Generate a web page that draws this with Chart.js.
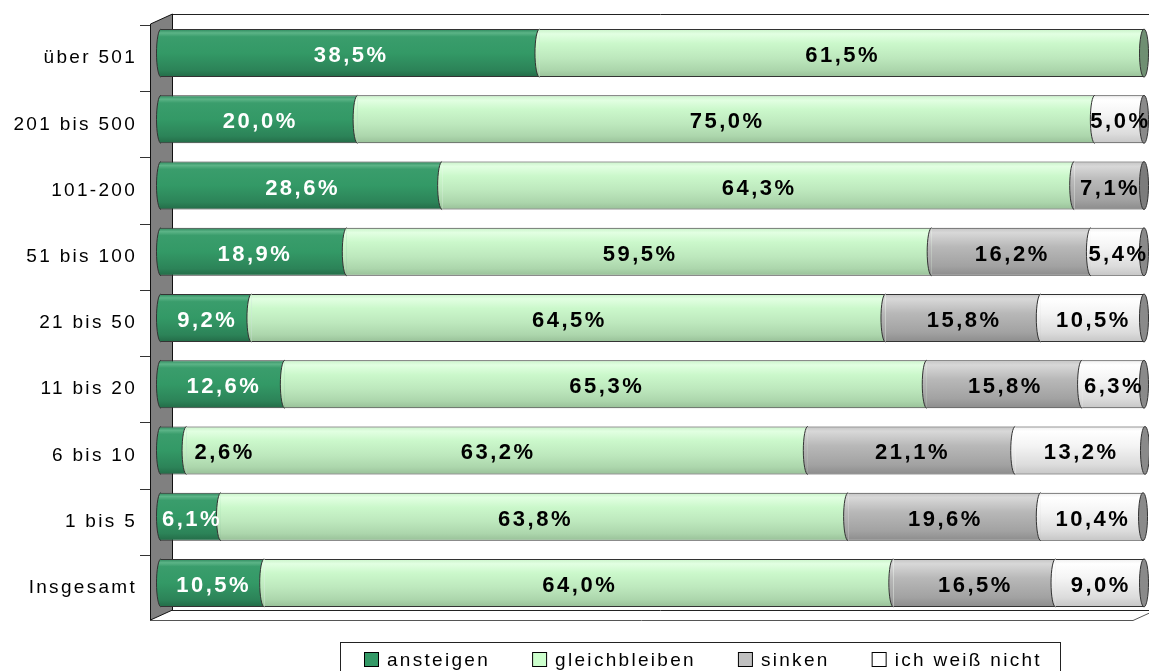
<!DOCTYPE html>
<html>
<head>
<meta charset="utf-8">
<script src="https://cdn.jsdelivr.net/npm/chart.js@4.4.1/dist/chart.umd.min.js"></script>
<style>
  html, body { margin: 0; padding: 0; background: #fff; }
  #chart { display: block; }
</style>
</head>
<body>
<canvas id="chart" width="1149" height="671"></canvas>
<script>
// ── Daten ──
const categories = ['über 501', '201 bis 500', '101-200', '51 bis 100', '21 bis 50', '11 bis 20', '6 bis 10', '1 bis 5', 'Insgesamt'];
const seriesNames = ['ansteigen', 'gleichbleiben', 'sinken', 'ich weiß nicht'];
const ansteigen     = [38.5, 20.0, 28.6, 18.9,  9.2, 12.6,  2.6,  6.1, 10.5];
const gleichbleiben = [61.5, 75.0, 64.3, 59.5, 64.5, 65.3, 63.2, 63.8, 64.0];
const sinken        = [ 0,    0,    7.1, 16.2, 15.8, 15.8, 21.1, 19.6, 16.5];
const weissNicht    = [ 0,    5.0,  0,    5.4, 10.5,  6.3, 13.2, 10.4,  9.0];

// ── Farben ──
const flatColors = ['#339966', '#CCFFCC', '#C0C0C0', '#FFFFFF'];
const capColors = ['#1f5f3f', '#6f8f72', '#7c7c7c', '#8a8a8a'];
const labelColors = ['#fff', '#000', '#000', '#000'];
const gradStops = [
    [[0, '#2a865a'], [0.08, '#5cb487'], [0.16, '#3a9d6c'], [0.5, '#339966'], [0.85, '#2c8358'], [1, '#236b47']],
    [[0, '#c8f2c8'], [0.1, '#e2ffe2'], [0.3, '#cbf8cb'], [0.6, '#bde8bd'], [0.85, '#acd6ac'], [1, '#98c098']],
    [[0, '#c4c4c4'], [0.1, '#d8d8d8'], [0.4, '#b8b8b8'], [0.8, '#a2a2a2'], [1, '#8c8c8c']],
    [[0, '#eeeeee'], [0.1, '#ffffff'], [0.4, '#f4f4f4'], [0.8, '#dcdcdc'], [1, '#c6c6c6']]
];

const BAR_PCT = 0.725;
const CAP = 4.5;
const LABEL_FONT = 'bold 22px "Liberation Sans", Arial, sans-serif';
const TEXT_FONT = '19px "Liberation Sans", Arial, sans-serif';

function cylinder(stops, fallback) {
    return ctx => {
        const chart = ctx.chart;
        const area = chart.chartArea;
        if (!area || ctx.type !== 'data') return fallback;
        const y = chart.scales.y.getPixelForValue(ctx.dataIndex);
        const h = area.height / categories.length * BAR_PCT;
        const g = chart.ctx.createLinearGradient(0, y - h / 2, 0, y + h / 2);
        stops.forEach(s => g.addColorStop(s[0], s[1]));
        return g;
    };
}

const fmt = v => v.toFixed(1).replace('.', ',') + '%';

// ── 3D-Rahmen (Wand, Boden, Rückwand) ──
const frame3d = {
    id: 'frame3d',
    beforeDraw(chart) {
        const { ctx, chartArea: a, width } = chart;
        const xf = a.left - 11, xb = a.left + 11;
        const yTopF = a.top + 4, yTopB = a.top - 6;
        const yBotF = a.bottom + 4, yBotB = a.bottom - 6;
        ctx.save();
        ctx.strokeStyle = '#222';
        ctx.lineWidth = 1;
        // Rückwand oben + Boden hinten
        ctx.beginPath();
        ctx.moveTo(xb, yTopB + 0.5); ctx.lineTo(width, yTopB + 0.5);
        ctx.moveTo(xb, yBotB + 0.5); ctx.lineTo(width, yBotB + 0.5);
        ctx.stroke();
        // Boden vorne
        ctx.strokeStyle = '#555';
        ctx.beginPath();
        ctx.moveTo(xf, yBotF + 0.5);
        ctx.lineTo(a.right - 11, yBotF + 0.5);
        ctx.lineTo(a.right + 11, yBotB + 0.5);
        ctx.stroke();
        // Seitenwand
        ctx.beginPath();
        ctx.moveTo(xf + 0.5, yTopF);
        ctx.lineTo(xb + 0.5, yTopB);
        ctx.lineTo(xb + 0.5, yBotB);
        ctx.lineTo(xf + 0.5, yBotF);
        ctx.closePath();
        ctx.fillStyle = '#808080';
        ctx.fill();
        ctx.strokeStyle = '#111';
        ctx.stroke();
        // Teilstriche
        const step = a.height / categories.length;
        ctx.strokeStyle = '#333';
        ctx.beginPath();
        for (let k = 0; k < categories.length; k++) {
            const y = Math.round(a.top + 5 + k * step) + 0.5;
            ctx.moveTo(xf - 10, y); ctx.lineTo(xf, y);
        }
        ctx.stroke();
        ctx.restore();
        // Achsenbeschriftung mit Sperrung
        ctx.letterSpacing = '2.3px';
    },
    beforeDatasetsDraw(chart) {
        chart.ctx.letterSpacing = '0px';
    }
};

// ── Zylinder-Enden und Datenbeschriftungen ──
const cylinderDeco = {
    id: 'cylinderDeco',
    afterDatasetsDraw(chart) {
        const ctx = chart.ctx;
        ctx.save();
        ctx.lineWidth = 1;
        ctx.strokeStyle = '#333';
        const labels = [];
        for (let i = 0; i < categories.length; i++) {
            let lastEl = null, last = -1;
            for (let d = 0; d < seriesNames.length; d++) {
                const el = chart.getDatasetMeta(d).data[i];
                if (!el || el.x - el.base < 0.5) continue;
                const h = el.height, cy = el.y;
                ctx.beginPath();
                ctx.moveTo(el.base, cy - h / 2);
                ctx.ellipse(el.base, cy, CAP, h / 2, 0, -Math.PI / 2, Math.PI / 2, true);
                ctx.closePath();
                ctx.fillStyle = el.options.backgroundColor;
                ctx.fill();
                ctx.beginPath();
                ctx.ellipse(el.base, cy, CAP, h / 2, 0, -Math.PI / 2, Math.PI / 2, true);
                ctx.stroke();
                lastEl = el; last = d;
                labels.push({ el, d, v: chart.data.datasets[d].data[i] });
            }
            if (lastEl) {
                ctx.beginPath();
                ctx.ellipse(lastEl.x, lastEl.y, CAP, lastEl.height / 2, 0, 0, Math.PI * 2);
                ctx.fillStyle = capColors[last];
                ctx.fill();
                ctx.stroke();
            }
        }
        ctx.font = LABEL_FONT;
        ctx.letterSpacing = '2.5px';
        ctx.textBaseline = 'alphabetic';
        labels.forEach(({ el, d, v }) => {
            const w = el.x - el.base;
            const text = fmt(v);
            if (w < 40) {
                ctx.textAlign = 'left';
                ctx.fillStyle = '#000';
                ctx.fillText(text, el.x + 8, el.y + 9);
            } else {
                ctx.textAlign = 'center';
                ctx.fillStyle = labelColors[d];
                ctx.fillText(text, (el.x + el.base) / 2 + 1, el.y + 9);
            }
        });
        ctx.restore();
    }
};

// ── Legende mit Rahmen ──
const boxLegend = {
    id: 'boxLegend',
    afterDraw(chart) {
        const ctx = chart.ctx;
        ctx.save();
        ctx.lineWidth = 1;
        ctx.strokeStyle = '#222';
        ctx.strokeRect(340.5, 642.5, 720, 60);
        ctx.font = TEXT_FONT;
        ctx.letterSpacing = '2.3px';
        ctx.textBaseline = 'alphabetic';
        ctx.textAlign = 'left';
        let x = 364;
        seriesNames.forEach((name, d) => {
            ctx.fillStyle = flatColors[d];
            ctx.fillRect(x + 0.5, 652.5, 14, 14);
            ctx.strokeStyle = '#000';
            ctx.strokeRect(x + 0.5, 652.5, 14, 14);
            ctx.fillStyle = '#000';
            ctx.fillText(name, x + 23, 666);
            x += 23 + ctx.measureText(name).width + 42;
        });
        ctx.restore();
    }
};

const seriesData = [ansteigen, gleichbleiben, sinken, weissNicht];

new Chart(document.getElementById('chart'), {
    type: 'bar',
    data: {
        labels: categories,
        datasets: seriesNames.map((name, d) => ({
            label: name,
            data: seriesData[d],
            backgroundColor: cylinder(gradStops[d], flatColors[d]),
            borderColor: '#333',
            borderWidth: { top: 1, bottom: 1, left: 0, right: 0 },
            borderSkipped: false,
            barPercentage: BAR_PCT,
            categoryPercentage: 1
        }))
    },
    options: {
        indexAxis: 'y',
        responsive: false,
        animation: false,
        layout: { padding: { left: 0, right: 5, top: 20, bottom: 55 } },
        plugins: {
            legend: { display: false },
            tooltip: { enabled: false }
        },
        scales: {
            x: { display: false, stacked: true, min: 0, max: 100 },
            y: {
                stacked: true,
                grid: { display: false, drawTicks: false },
                border: { display: false },
                afterFit: s => { s.width = 161; s.paddingTop = 0; s.paddingBottom = 0; },
                ticks: {
                    color: '#000',
                    padding: 24,
                    labelOffset: 5,
                    font: { family: '"Liberation Sans", Arial, sans-serif', size: 19 }
                }
            }
        }
    },
    plugins: [frame3d, cylinderDeco, boxLegend]
});
</script>
</body>
</html>
